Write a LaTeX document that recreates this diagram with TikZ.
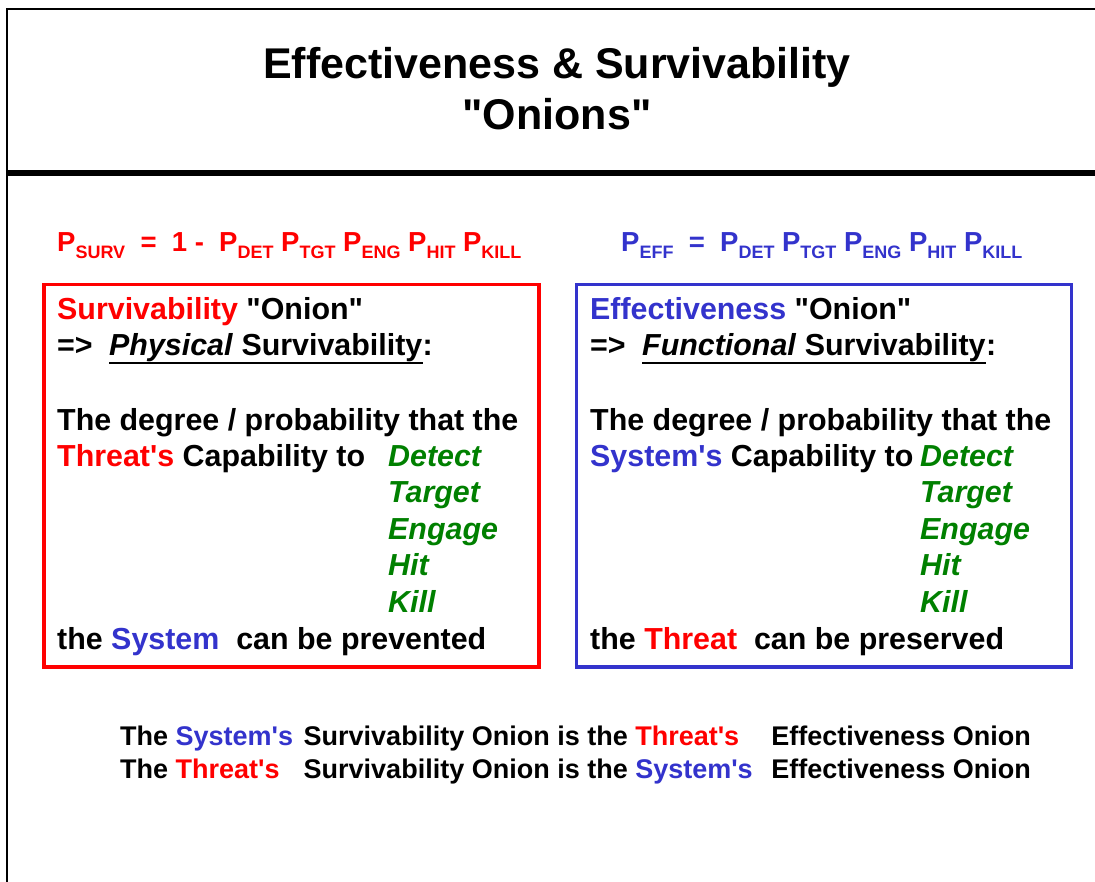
\documentclass[tikz,border=0pt]{standalone}
\usepackage{fontspec}
\setmainfont{Liberation Sans}[Ligatures=TeXOff]
\definecolor{sysblue}{RGB}{51,51,204}
\definecolor{verbgreen}{RGB}{0,128,0}
\newcommand{\Pterm}[1]{P\raisebox{-6.5pt}{\fontsize{18}{18}\selectfont #1}}
\begin{document}
\begin{tikzpicture}[x=1pt,y=-1pt,
    title/.style={font=\bfseries\fontsize{43}{51}\selectfont,inner sep=0pt,anchor=base},
    formula/.style={font=\bfseries\fontsize{27.5}{30}\selectfont,inner sep=0pt,anchor=base west},
    txt/.style={font=\bfseries\fontsize{30.4}{36}\selectfont,inner sep=0pt,anchor=base west},
    verb/.style={font=\bfseries\itshape\fontsize{30.4}{36}\selectfont,text=verbgreen,inner sep=0pt,anchor=base west},
    foot/.style={font=\bfseries\fontsize{27}{33}\selectfont,inner sep=0pt,anchor=base west},
    onionbox/.style={line width=3.5pt,minimum width=495pt,minimum height=382pt,anchor=north west,inner sep=0pt}]
    \useasboundingbox (0,0) rectangle (1095,882);
    \draw[line width=2.5pt] (7,882)--(7,9)--(1095,9);
    \draw[line width=6pt] (5.75,173)--(1095,173);
    \node[title] (head1) at (557,79) {Effectiveness \& Survivability};
    \node[title] (head2) at (557,130) {"Onions"};
    \node[formula,text=red] (psurv) at (57,252)
        {\Pterm{SURV}~~=~~1~-~~\Pterm{DET} \Pterm{TGT} \Pterm{ENG} \Pterm{HIT} \Pterm{KILL}};
    \node[formula,text=sysblue] (peff) at (621,252)
        {\Pterm{EFF}~~=~~\Pterm{DET} \Pterm{TGT} \Pterm{ENG} \Pterm{HIT} \Pterm{KILL}};
    \node[onionbox,draw=red] (survbox) at (42,283) {};
    \node[onionbox,draw=sysblue] (effbox) at (574.5,283) {};
    \node[txt] (shead) at (57,320) {\textcolor{red}{Survivability} "Onion"};
    \node[txt] (sarrow) at (57,356) {=>};
    \node[txt] (sphys) at (109,356) {\textit{Physical} Survivability};
    \node[txt] (scolon) at (sphys.base east) {:};
    \draw[line width=2.5pt] ([yshift=-7pt]sphys.base west)--([yshift=-7pt]sphys.base east);
    \node[txt] (sdeg) at (57,431) {The degree / probability that the};
    \node[txt] (scap) at (57,466) {\textcolor{red}{Threat's} Capability to};
    \foreach \w [count=\i] in {Detect,Target,Engage,Hit,Kill}
    {
        \node[verb] (sv\i) at (388,{466+36.5*(\i-1)}) {\w};
    }
    \node[txt] (send) at (57,649) {the \textcolor{sysblue}{System}~~can be prevented};
    \node[txt] (ehead) at (590,320) {\textcolor{sysblue}{Effectiveness} "Onion"};
    \node[txt] (earrow) at (590,356) {=>};
    \node[txt] (efunc) at (642,356) {\textit{Functional} Survivability};
    \node[txt] (ecolon) at (efunc.base east) {:};
    \draw[line width=2.5pt] ([yshift=-7pt]efunc.base west)--([yshift=-7pt]efunc.base east);
    \node[txt] (edeg) at (590,431) {The degree / probability that the};
    \node[txt] (ecap) at (590,466) {\textcolor{sysblue}{System's} Capability to};
    \foreach \w [count=\i] in {Detect,Target,Engage,Hit,Kill}
    {
        \node[verb] (ev\i) at (920,{466+36.5*(\i-1)}) {\w};
    }
    \node[txt] (eend) at (590,649) {the \textcolor{red}{Threat}~~can be preserved};
    \node[foot] (foot1) at (120,745) {The \makebox[128pt][l]{\textcolor{sysblue}{System's}}Survivability Onion is the \makebox[136pt][l]{\textcolor{red}{Threat's}}Effectiveness Onion};
    \node[foot] (foot2) at (120,778) {The \makebox[128pt][l]{\textcolor{red}{Threat's}}Survivability Onion is the \makebox[136pt][l]{\textcolor{sysblue}{System's}}Effectiveness Onion};
\end{tikzpicture}
\end{document}
